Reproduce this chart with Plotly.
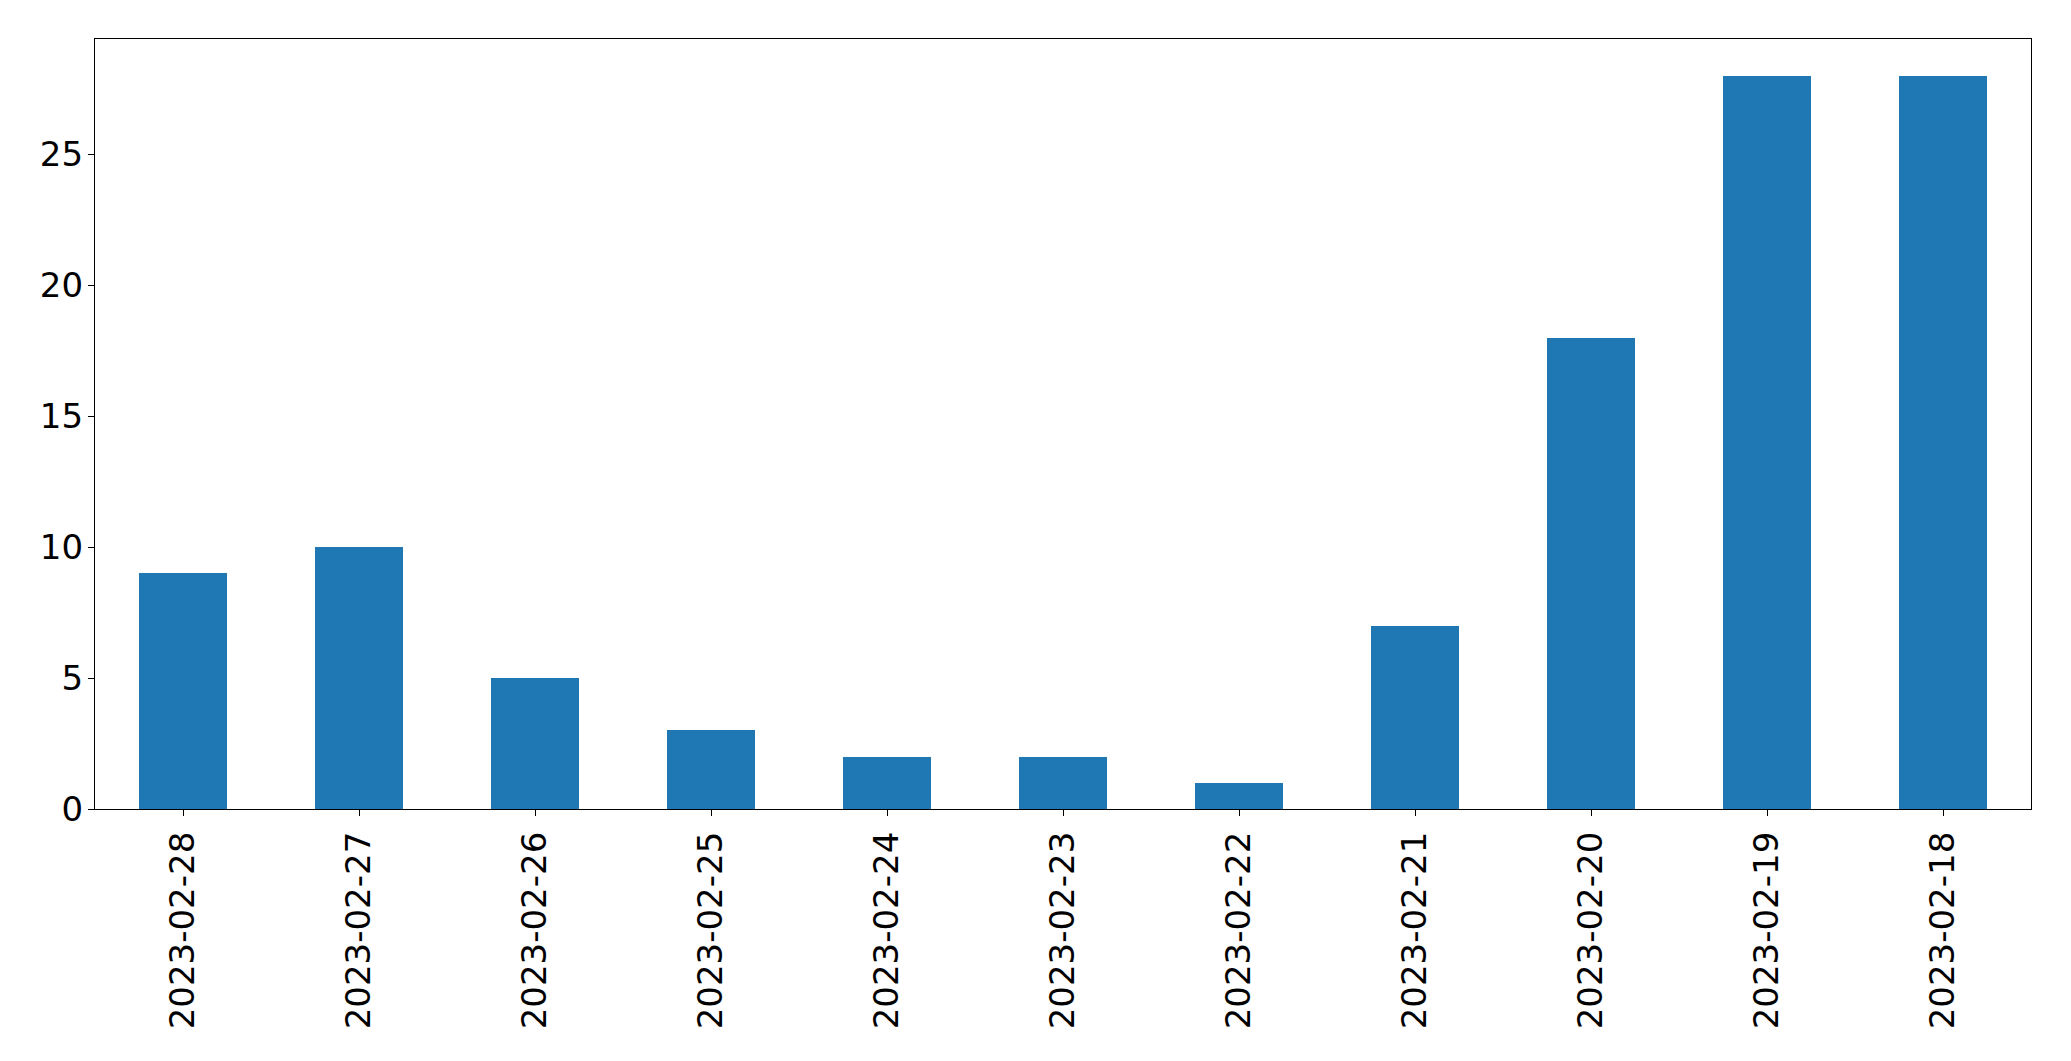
import plotly.graph_objects as go

dates = ["2023-02-28", "2023-02-27", "2023-02-26", "2023-02-25", "2023-02-24", "2023-02-23",
         "2023-02-22", "2023-02-21", "2023-02-20", "2023-02-19", "2023-02-18"]
counts = [9, 10, 5, 3, 2, 2, 1, 7, 18, 28, 28]
y_ticks = [0, 5, 10, 15, 20, 25]

fig = go.Figure(go.Bar(x=dates, y=counts, width=0.5, marker=dict(color="#1f77b4", line=dict(width=0))))

axis_common = dict(showline=True, linecolor="black", linewidth=1.3, mirror=True,
                   ticks="outside", ticklen=6, tickwidth=1.3, tickcolor="black",
                   showgrid=False, zeroline=False,
                   tickfont=dict(family="DejaVu Sans", size=34, color="black"))

# page body has an 8px default margin; keep the figure inside the viewport (no scrollbars)
fig.update_layout(
    width=2055, height=1045,
    margin=dict(l=87, r=32, t=31, b=244),
    plot_bgcolor="white", paper_bgcolor="white",
    showlegend=False,
    bargap=0,
    xaxis=dict(type="category", range=[-0.5, 10.5], tickangle=-90, ticklabelstandoff=2, **axis_common),
    yaxis=dict(range=[0, 29.4], tickvals=y_ticks, ticklabelstandoff=-2, **axis_common),
)

fig.write_html("out.html")
